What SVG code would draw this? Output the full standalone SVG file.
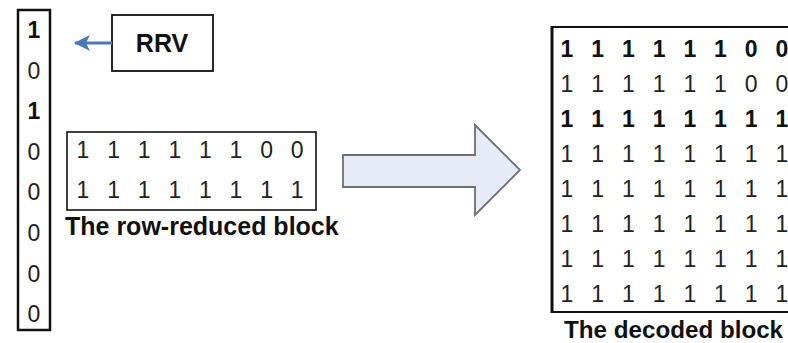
<svg xmlns="http://www.w3.org/2000/svg" width="788" height="343" viewBox="0 0 788 343">
  <defs>
    <style>
      .box { fill: none; stroke: #111; }
      .dg { font-family: "Liberation Sans", Arial, sans-serif; font-size: 23px; fill: #222; text-anchor: middle; }
      .b { font-weight: bold; fill: #111; }
      .cap { font-family: "Liberation Sans", Arial, sans-serif; font-size: 25px; font-weight: bold; fill: #111; }
    </style>
    <marker id="blueHead" viewBox="0 0 16 16" refX="15" refY="8" markerWidth="16" markerHeight="16" orient="auto" markerUnits="userSpaceOnUse">
      <path d="M0,0 L16,8 L0,16 L4,8 Z" fill="#4a7ab5"/>
    </marker>
  </defs>
  <rect width="788" height="343" fill="#fff"/>

  <!-- row reduction vector (column) -->
  <g id="rrv-column">
    <rect class="box" x="18" y="10" width="32" height="320" stroke-width="2.5"/>
    <text class="dg b" x="34" y="38">1</text>
    <text class="dg" x="34" y="78.6">0</text>
    <text class="dg b" x="34" y="119">1</text>
    <text class="dg" x="34" y="160">0</text>
    <text class="dg" x="34" y="200">0</text>
    <text class="dg" x="34" y="241">0</text>
    <text class="dg" x="34" y="282">0</text>
    <text class="dg" x="34" y="322">0</text>
  </g>

  <!-- RRV label -->
  <g id="rrv-label">
    <rect class="box" x="112" y="15" width="101" height="56" stroke-width="1.8"/>
    <text class="cap" x="162" y="52" text-anchor="middle">RRV</text>
  </g>

  <!-- row-reduced block -->
  <g id="row-reduced">
    <rect class="box" x="67" y="132" width="249" height="78" stroke-width="1.6"/>
    <g class="dg">
      <text x="83" y="158">1</text><text x="113.6" y="158">1</text><text x="144.2" y="158">1</text><text x="174.8" y="158">1</text>
      <text x="205.4" y="158">1</text><text x="236" y="158">1</text><text x="266.6" y="158">0</text><text x="297.2" y="158">0</text>
      <text x="83" y="198">1</text><text x="113.6" y="198">1</text><text x="144.2" y="198">1</text><text x="174.8" y="198">1</text>
      <text x="205.4" y="198">1</text><text x="236" y="198">1</text><text x="266.6" y="198">1</text><text x="297.2" y="198">1</text>
    </g>
    <text class="cap" x="65" y="235">The row-reduced block</text>
  </g>

  <!-- decoded block -->
  <g id="decoded">
    <path d="M552,27 H790 M552,312 H790" stroke="#111" stroke-width="2" fill="none"/>
    <path d="M552,26 V313" stroke="#111" stroke-width="3" fill="none"/>
    <g class="dg b">
      <text x="567" y="57">1</text><text x="597.7" y="57">1</text><text x="628.4" y="57">1</text><text x="659.1" y="57">1</text>
      <text x="689.8" y="57">1</text><text x="720.5" y="57">1</text><text x="751.2" y="57">0</text><text x="781.9" y="57">0</text>
    </g>
    <g class="dg">
      <text x="567" y="92">1</text><text x="597.7" y="92">1</text><text x="628.4" y="92">1</text><text x="659.1" y="92">1</text>
      <text x="689.8" y="92">1</text><text x="720.5" y="92">1</text><text x="751.2" y="92">0</text><text x="781.9" y="92">0</text>
    </g>
    <g class="dg b">
      <text x="567" y="127">1</text><text x="597.7" y="127">1</text><text x="628.4" y="127">1</text><text x="659.1" y="127">1</text>
      <text x="689.8" y="127">1</text><text x="720.5" y="127">1</text><text x="751.2" y="127">1</text><text x="781.9" y="127">1</text>
    </g>
    <g class="dg">
      <text x="567" y="162">1</text><text x="597.7" y="162">1</text><text x="628.4" y="162">1</text><text x="659.1" y="162">1</text>
      <text x="689.8" y="162">1</text><text x="720.5" y="162">1</text><text x="751.2" y="162">1</text><text x="781.9" y="162">1</text>
      <text x="567" y="197">1</text><text x="597.7" y="197">1</text><text x="628.4" y="197">1</text><text x="659.1" y="197">1</text>
      <text x="689.8" y="197">1</text><text x="720.5" y="197">1</text><text x="751.2" y="197">1</text><text x="781.9" y="197">1</text>
      <text x="567" y="232">1</text><text x="597.7" y="232">1</text><text x="628.4" y="232">1</text><text x="659.1" y="232">1</text>
      <text x="689.8" y="232">1</text><text x="720.5" y="232">1</text><text x="751.2" y="232">1</text><text x="781.9" y="232">1</text>
      <text x="567" y="267">1</text><text x="597.7" y="267">1</text><text x="628.4" y="267">1</text><text x="659.1" y="267">1</text>
      <text x="689.8" y="267">1</text><text x="720.5" y="267">1</text><text x="751.2" y="267">1</text><text x="781.9" y="267">1</text>
      <text x="567" y="302">1</text><text x="597.7" y="302">1</text><text x="628.4" y="302">1</text><text x="659.1" y="302">1</text>
      <text x="689.8" y="302">1</text><text x="720.5" y="302">1</text><text x="751.2" y="302">1</text><text x="781.9" y="302">1</text>
    </g>
    <text class="cap" x="564" y="338" style="font-size:24.2px">The decoded block</text>
  </g>

  <!-- connectors -->
  <g id="connectors">
    <line x1="112" y1="43" x2="75" y2="43" stroke="#4a7ab5" stroke-width="3" marker-end="url(#blueHead)"/>
    <polygon points="343,155 475,155 475,125 520,170 475,215 475,187 343,187" fill="#e6ebf7" stroke="#6f6f6f" stroke-width="1.8"/>
  </g>
</svg>
